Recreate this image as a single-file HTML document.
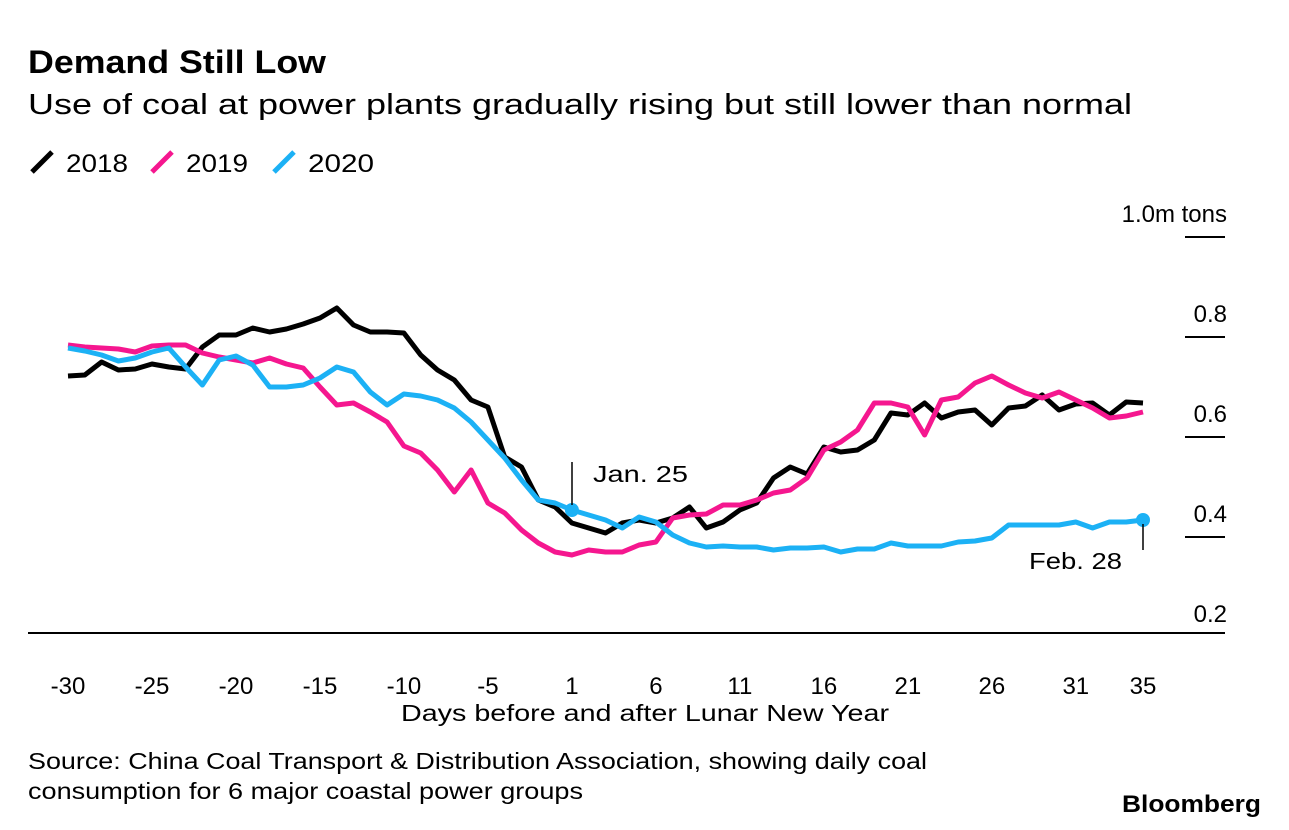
<!DOCTYPE html>
<html><head><meta charset="utf-8"><style>
body{margin:0;background:#fff;font-family:"Liberation Sans",sans-serif;}
svg{display:block}
text{font-family:"Liberation Sans",sans-serif;fill:#000}
</style></head><body>
<svg id="c" width="1289" height="830" viewBox="0 0 1289 830">
<text x="28" y="73" font-size="32" font-weight="bold" textLength="298" lengthAdjust="spacingAndGlyphs">Demand Still Low</text>
<text x="28" y="114" font-size="29" textLength="1104" lengthAdjust="spacingAndGlyphs">Use of coal at power plants gradually rising but still lower than normal</text>
<g>
<g><line x1="32" y1="172" x2="52" y2="152" stroke="#000" stroke-width="5"/><text x="66" y="172" font-size="25" textLength="62" lengthAdjust="spacingAndGlyphs">2018</text></g>
<g><line x1="152" y1="172" x2="172" y2="152" stroke="#f5178f" stroke-width="5"/><text x="186" y="172" font-size="25" textLength="62" lengthAdjust="spacingAndGlyphs">2019</text></g>
<g><line x1="274" y1="172" x2="294" y2="152" stroke="#1cb1f5" stroke-width="5"/><text x="308" y="172" font-size="25" textLength="66" lengthAdjust="spacingAndGlyphs">2020</text></g>
</g>
<g id="yaxis"></g>
<g id="xaxis"></g>
<line x1="28" y1="633" x2="1225" y2="633" stroke="#000" stroke-width="2"/>
<text x="401" y="721" font-size="23" textLength="488" lengthAdjust="spacingAndGlyphs">Days before and after Lunar New Year</text>
<g id="series"></g>
<g><line x1="572" y1="462" x2="572" y2="505" stroke="#000" stroke-width="1.5"/><text x="593" y="482" font-size="23" textLength="95" lengthAdjust="spacingAndGlyphs">Jan. 25</text></g>
<g><line x1="1143" y1="524" x2="1143" y2="550" stroke="#000" stroke-width="1.5"/><text x="1029" y="569" font-size="23" textLength="93" lengthAdjust="spacingAndGlyphs">Feb. 28</text></g>
<text x="28" y="769" font-size="23" textLength="899" lengthAdjust="spacingAndGlyphs">Source: China Coal Transport &amp; Distribution Association, showing daily coal</text>
<text x="28" y="799" font-size="23" textLength="555" lengthAdjust="spacingAndGlyphs">consumption for 6 major coastal power groups</text>
<text x="1122" y="812" font-size="24" font-weight="bold" textLength="139" lengthAdjust="spacingAndGlyphs">Bloomberg</text>
</svg>
<script>
const xTickLabels=["-30","-25","-20","-15","-10","-5","1","6","11","16","21","26","31","35"];
const xTickIndex=[0,5,10,15,20,25,30,35,40,45,50,55,60,64];
const yTicks=[1.0,0.8,0.6,0.4,0.2];
const yTickLabels=["1.0m tons","0.8","0.6","0.4","0.2"];
const s2018=[.722,.724,.75,.734,.736,.746,.74,.736,.78,.804,.804,.818,.81,.816,.826,.838,.858,.824,.81,.81,.808,.764,.734,.714,.674,.66,.56,.54,.474,.46,
.428,.418,.408,.428,.434,.428,.438,.46,.418,.43,.454,.468,.518,.54,.526,.58,.57,.574,.594,.648,.644,.668,.638,.65,.654,.624,.658,.662,.684,.654,.666,.668,.644,.67,.668];
const s2019=[.784,.78,.778,.776,.77,.782,.784,.784,.768,.76,.754,.748,.758,.746,.738,.70,.664,.668,.65,.63,.582,.568,.534,.49,.534,.468,.448,.414,.388,.37,
.364,.374,.37,.37,.384,.39,.438,.444,.446,.464,.464,.474,.488,.494,.518,.574,.59,.614,.668,.668,.66,.604,.674,.68,.708,.722,.704,.688,.678,.69,.674,.658,.638,.642,.65];
const s2020=[.778,.772,.764,.752,.758,.77,.778,.74,.704,.754,.762,.744,.70,.70,.704,.718,.74,.73,.69,.664,.686,.682,.674,.658,.63,.594,.558,.514,.474,.468,
.454,.444,.434,.418,.44,.43,.404,.388,.38,.382,.38,.38,.374,.378,.378,.38,.37,.376,.376,.388,.382,.382,.382,.39,.392,.398,.424,.424,.424,.424,.43,.418,.43,.43,.434];
const NS="http://www.w3.org/2000/svg";
const X=i=>68+i*(1143-68)/64;
const Y=v=>237+(1-v)*500;
const ya=document.getElementById('yaxis');
yTicks.forEach((t,k)=>{
  if(t>0.25){const l=document.createElementNS(NS,'line');
  l.setAttribute('x1',1185);l.setAttribute('x2',1225);l.setAttribute('y1',Y(t));l.setAttribute('y2',Y(t));
  l.setAttribute('stroke','#000');l.setAttribute('stroke-width','2');
  
  
  ya.appendChild(l);}
  const tx=document.createElementNS(NS,'text');
  tx.setAttribute('x',1227);tx.setAttribute('y',Y(t)-15);tx.setAttribute('text-anchor','end');tx.setAttribute('font-size','24');
  tx.textContent=yTickLabels[k];
  
  
  ya.appendChild(tx);
});
const xa=document.getElementById('xaxis');
xTickLabels.forEach((lab,k)=>{
  const tx=document.createElementNS(NS,'text');
  tx.setAttribute('x',X(xTickIndex[k]));tx.setAttribute('y',694);tx.setAttribute('text-anchor','middle');tx.setAttribute('font-size','24');
  tx.textContent=lab;
  
  
  xa.appendChild(tx);
});
const sg=document.getElementById('series');
[[s2018,'#000','series-2018'],[s2019,'#f5178f','series-2019'],[s2020,'#1cb1f5','series-2020']].forEach(([d,c,n])=>{
  const p=document.createElementNS(NS,'polyline');
  p.setAttribute('points',d.map((v,i)=>X(i).toFixed(1)+','+Y(v).toFixed(1)).join(' '));
  p.setAttribute('fill','none');p.setAttribute('stroke',c);p.setAttribute('stroke-width','5');p.setAttribute('stroke-linejoin','round');
  
  
  sg.appendChild(p);
});
[30,64].forEach(i=>{
  const c=document.createElementNS(NS,'circle');
  c.setAttribute('cx',X(i));c.setAttribute('cy',Y(s2020[i]));c.setAttribute('r',7);c.setAttribute('fill','#1cb1f5');
  
  
  sg.appendChild(c);
});
</script>
</body></html>
